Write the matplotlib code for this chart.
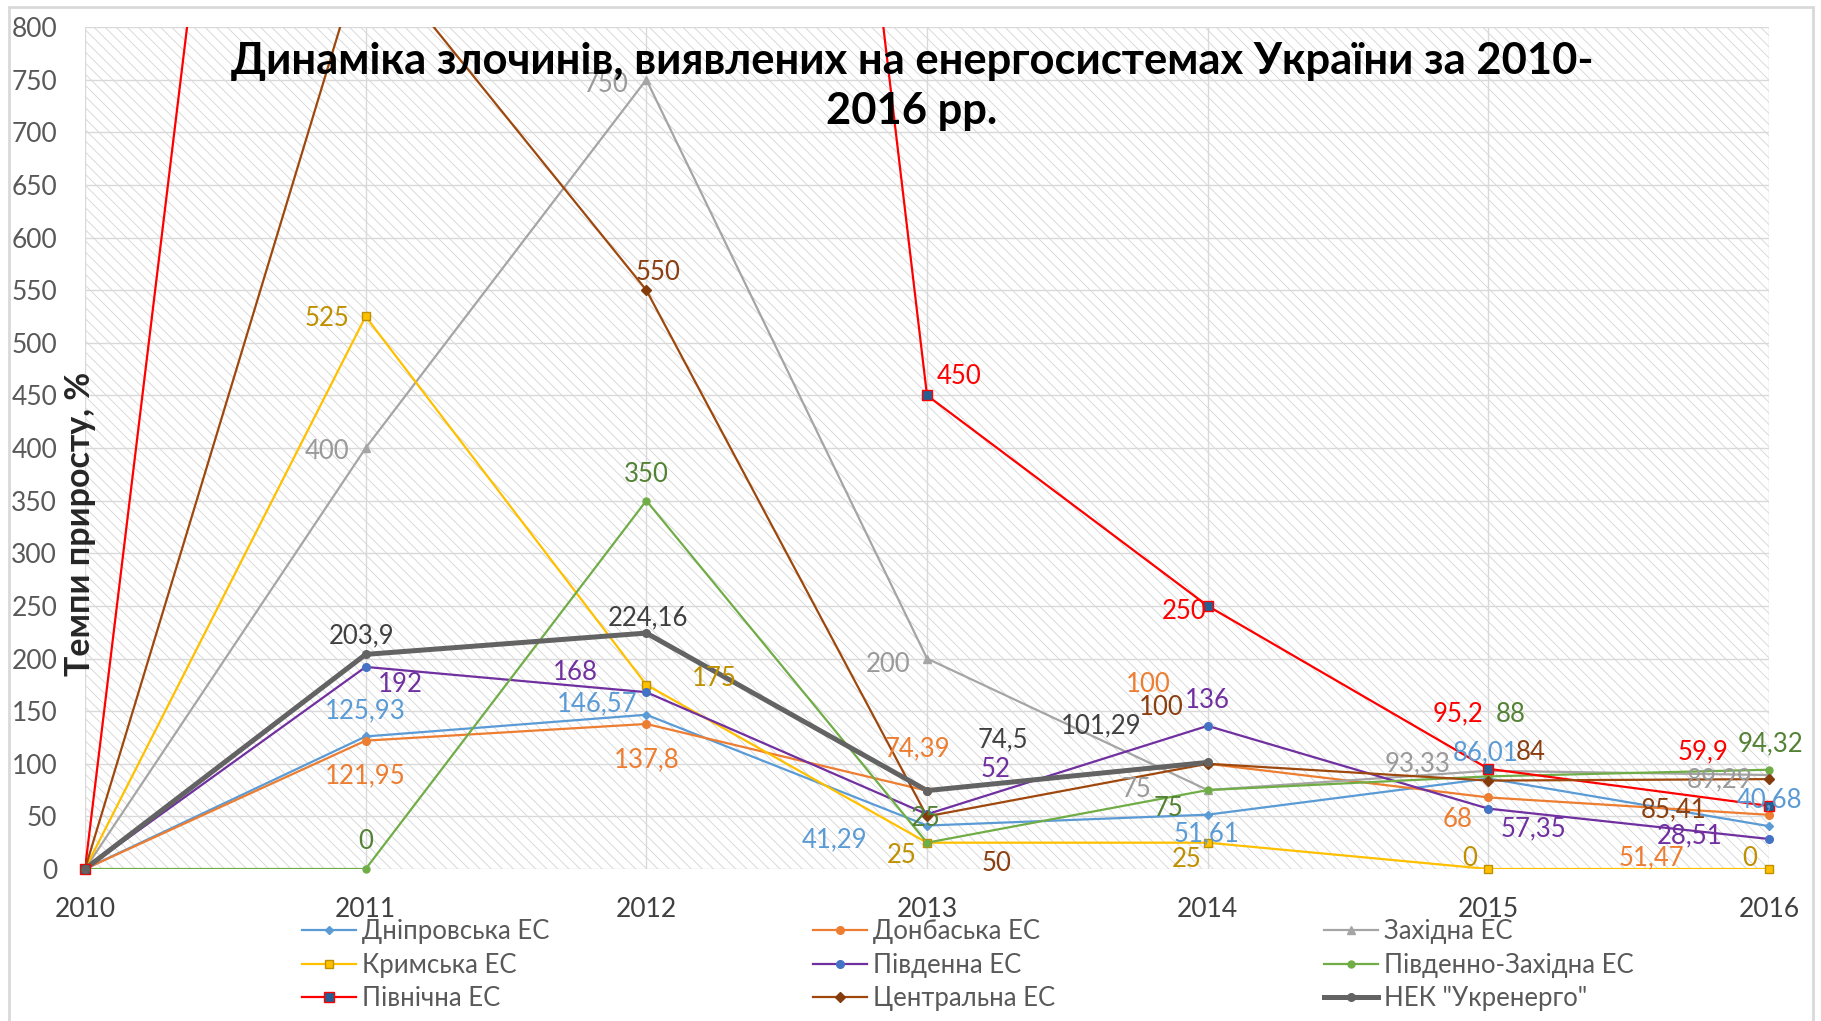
import numpy as np
import matplotlib
matplotlib.use("Agg")
import matplotlib.pyplot as plt
from matplotlib.lines import Line2D
from matplotlib.patches import Rectangle

plt.rcParams['font.family'] = ['Lato', 'DejaVu Sans']
plt.rcParams['hatch.linewidth'] = 0.6

years = [2010, 2011, 2012, 2013, 2014, 2015, 2016]

# values (Північна 2011-2012 and Центральна 2011 run past the top)
dnipro = [0, 125.93, 146.57, 41.29, 51.61, 86.01, 40.68]
donbas = [0, 121.95, 137.8, 74.39, 100, 68, 51.47]
zakhid = [0, 400, 750, 200, 75, 93.33, 89.29]
krym = [0, 525, 175, 25, 25, 0, 0]
pivden = [0, 192, 168, 52, 136, 57.35, 28.51]
pivden_zakhid = [0, 0, 350, 25, 75, 88, 94.32]
pivnich = [0, 2200, 2700, 450, 250, 95.2, 59.9]
centr = [0, 880, 550, 50, 100, 84, 85.41]
ukrenergo = [0, 203.9, 224.16, 74.5, 101.29, np.nan, np.nan]

names = ["Дніпровська ЕС", "Донбаська ЕС", "Західна ЕС", "Кримська ЕС", "Південна ЕС",
         "Південно-Західна ЕС", "Північна ЕС", "Центральна ЕС", 'НЕК "Укренерго"']
series = [dnipro, donbas, zakhid, krym, pivden, pivden_zakhid, pivnich, centr, ukrenergo]

# style: line colour, width, marker, marker size, face, edge, label colour
styles = [
    ('#5B9BD5', 1.6, 'D', 4.5, '#5B9BD5', '#5B9BD5', '#5B9BD5'),
    ('#ED7D31', 1.6, 'o', 5.5, '#ED7D31', '#ED7D31', '#ED7D31'),
    ('#A5A5A5', 1.6, '^', 5.5, '#A5A5A5', '#A5A5A5', '#9A9A9A'),
    ('#FFC000', 1.6, 's', 5.5, '#FFC000', '#BF9000', '#BF9000'),
    ('#7030A0', 1.6, 'o', 5.5, '#4472C4', '#4472C4', '#7030A0'),
    ('#70AD47', 1.6, 'o', 5, '#70AD47', '#70AD47', '#548235'),
    ('#FF0000', 1.6, 's', 6.5, '#255E91', '#FF0000', '#FF0000'),
    ('#9E480E', 1.6, 'D', 5, '#843C0C', '#843C0C', '#8B3E0F'),
    ('#636363', 3.6, 'o', 5.5, '#636363', '#636363', '#404040'),
]

# data label offsets in pixels (dx, dy up), None = no label
label_offsets = [
    [None, (0, 28), (-49, 13), (-92, -12), (-1, -17), (-3, 28), (1, 29)],
    [None, (0, -33), (0, -33), (-10, 44), (-59, 82), (-31, -20), (-118, -40)],
    [None, (-39, -1), (-40, -2), (-39, -3), (-71, 3), (-71, 9), (-49, -2)],
    [None, (-39, 0), (68, 9), (-25, -10), (-21, -14), (-19, 13), (-19, 13)],
    [None, (35, -15), (-71, 22), (69, 47), (0, 28), (45, -18), (-79, 6)],
    [None, (0, 30), (0, 29), (-1, 27), (-39, -16), (22, 64), (1, 28)],
    [None, None, None, (32, 21), (-24, -3), (-30, 57), (-66, 57)],
    [None, None, (12, 20), (70, -45), (-46, 59), (42, 31), (-95, -28)],
    [None, (-4, 21), (2, 18), (76, 53), (-106, 39), None, None],
]

W, H = 1821, 1021
fig = plt.figure(figsize=(W / 100, H / 100), dpi=100)
ax = fig.add_axes([85 / W, 1 - 869 / H, (1769 - 85) / W, (869 - 27) / H])
ax.set_facecolor('white')
ax.add_patch(Rectangle((0, 0), 1, 1, transform=ax.transAxes, facecolor='white',
                       edgecolor='#d4d4d4', lw=0, hatch='\\\\\\', zorder=0))

for vals, st, offs in zip(series, styles, label_offsets):
    col, lw, mk, ms, fc, ec, lc = st
    v = np.array(vals, dtype=float)
    ax.plot(years, v, color=col, lw=lw, zorder=3, solid_joinstyle='miter')
    ok = ~np.isnan(v) & (v <= 800)
    ax.plot(np.array(years)[ok], v[ok], ls='none', marker=mk, ms=ms, mfc=fc, mec=ec,
            mew=1, zorder=4, clip_on=False)
    for yr, val, off in zip(years, vals, offs):
        if off is None:
            continue
        txt = f"{val:g}".replace('.', ',')
        ax.annotate(txt, (yr, val), xytext=off, textcoords='offset pixels',
                    ha='center', va='center_baseline', fontsize=18.5, color=lc,
                    zorder=6, annotation_clip=False)

ax.set_xlim(2010, 2016)
ax.set_ylim(0, 800)
ax.set_xticks(years)
ax.set_yticks(np.arange(0, 801, 50))
ax.grid(True, color='#d9d9d9', lw=1, zorder=1)
ax.set_axisbelow(True)
for s in ax.spines.values():
    s.set_visible(False)
ax.tick_params(axis='y', length=0, labelsize=19, labelcolor='#595959', pad=20)
ax.tick_params(axis='x', length=0, labelsize=19, labelcolor='#404040', pad=20)

fig.text(912 / W, 1 - 86 / H, "Динаміка злочинів, виявлених на енергосистемах України за 2010-\n2016 рр.",
         ha='center', va='center', fontsize=31.3, fontweight='bold', color='black',
         linespacing=1.3, zorder=10)
fig.text(80 / W, 1 - 524 / H, "Темпи приросту, %", rotation=90, ha='center', va='center',
         fontsize=24.5, fontweight='bold', color='#262626')

# legend handles, three columns laid out row-wise as in the picture
handles = []
for st in styles:
    col, lw, mk, ms, fc, ec, lc = st
    handles.append(Line2D([], [], color=col, lw=lw, marker=mk, ms=ms, mfc=fc, mec=ec))
cols = [[0, 3, 6], [1, 4, 7], [2, 5, 8]]
col_x = [302, 813, 1324]
for idx, cx in zip(cols, col_x):
    fig.legend([handles[i] for i in idx], [names[i] for i in idx], loc='center left',
               bbox_to_anchor=(cx / W, 1 - 965 / H), frameon=False, fontsize=18.5,
               handlelength=2.1, handletextpad=0.25, labelspacing=0.34,
               borderpad=0, borderaxespad=0, labelcolor='#595959')

fig.add_artist(Rectangle((9 / W, -0.01), (1813 - 9) / W, 1.01 - 7 / H, transform=fig.transFigure,
                         facecolor='none', edgecolor='#d9d9d9', lw=2))

fig.savefig('out.png', dpi=100)
